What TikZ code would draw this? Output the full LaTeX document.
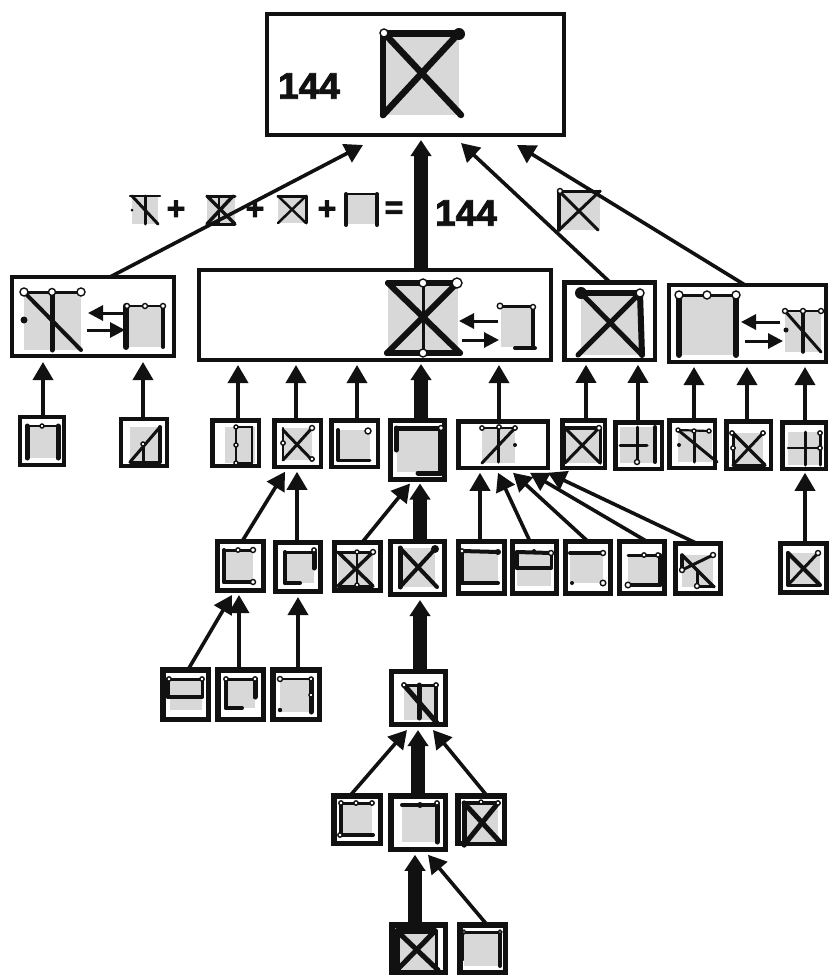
\documentclass[tikz,border=0pt]{standalone}
\usepackage{fontspec}
\setmainfont{Liberation Sans}
\newfontfamily\heavyf[BoldFeatures={FakeBold=2.5}]{Liberation Sans}
\usetikzlibrary{arrows.meta}
\definecolor{ink}{HTML}{111111}
\definecolor{gshade}{HTML}{D8D8D8}
\tikzset{
  boxn/.style={draw=ink,fill=white,inner sep=0pt,outer sep=0pt},
  thinar/.style={draw=ink,line width=3.6pt,-{Triangle[width=20pt,length=18pt]}},
  thickar/.style={draw=ink,line width=14pt,-{Triangle[width=20pt,length=16pt]}},
  smallar/.style={draw=ink,line width=3pt,-{Triangle[width=15pt,length=15pt]}},
  numlab/.style={font=\heavyf\bfseries\fontsize{37}{37}\selectfont,text=ink,inner sep=0pt},
  oplab/.style={font=\heavyf\bfseries\fontsize{32}{32}\selectfont,text=ink,inner sep=0pt}
}
\newcommand{\bx}[6]{\node[boxn,line width=#6pt,minimum width={(#4-#2-#6)*1pt},minimum height={(#5-#3-#6)*1pt}] (#1) at ({(#2+#4)/2},{(#3+#5)/2}) {};}
\newcommand{\ar}[6]{\draw[#1] (#3,0 |- #2.north) -- ([yshift=-#6pt]#5,0 |- #4.south);}
\newcommand{\gsh}[4]{\fill[gshade] (#1,#2) rectangle (#3,#4);}
\newcommand{\gl}[2]{\draw[ink,line width=#1pt,line cap=round,line join=round] #2;}
\newcommand{\oCirc}[3]{\draw[ink,fill=white,line width=1.4pt] (#1,#2) circle (#3pt);}
\newcommand{\dCirc}[3]{\fill[ink] (#1,#2) circle (#3pt);}
\begin{document}
\begin{tikzpicture}[x=1pt,y=-1pt]
\useasboundingbox (0,0) rectangle (829,977);
\fill[white] (0,0) rectangle (829,977);
% boxes
\bx{top}{265}{12}{566}{137}{4}
\bx{A}{10}{275}{176}{358}{4}
\bx{B}{197}{268}{553}{362}{4}
\bx{C}{562}{280}{657}{362}{4.5}
\bx{D}{667}{283}{828}{364}{4}
\bx{ra}{18}{415}{66}{467}{4}
\bx{rb}{119}{417}{169}{468}{4}
\bx{rc}{210}{418}{261}{468}{4.5}
\bx{rd}{272}{418}{323}{469}{4.5}
\bx{re}{329}{418}{380}{469}{4.5}
\bx{rf}{388}{418}{447}{482}{5}
\bx{rg}{456}{419}{550}{470}{4.5}
\bx{rh}{560}{418}{607}{470}{4.5}
\bx{ri}{613}{420}{664}{471}{4.5}
\bx{rj}{667}{418}{717}{470}{4.5}
\bx{rk}{724}{419}{773}{471}{4.5}
\bx{rl}{780}{420}{828}{471}{4.5}
\bx{qa}{215}{539}{266}{593}{5}
\bx{qb}{273}{540}{323}{594}{5}
\bx{qc}{332}{540}{383}{593}{5}
\bx{qd}{388}{539}{447}{597}{5}
\bx{qe}{456}{539}{507}{596}{5}
\bx{qf}{510}{539}{559}{596}{5}
\bx{qg}{563}{539}{613}{596}{5}
\bx{qh}{617}{539}{667}{596}{5}
\bx{qi}{673}{541}{723}{596}{5}
\bx{qj}{778}{541}{829}{595}{5}
\bx{pa}{160}{667}{211}{722}{5.5}
\bx{pb}{215}{667}{266}{722}{5.5}
\bx{pc}{270}{667}{322}{722}{5.5}
\bx{pd}{389}{669}{448}{727}{5}
\bx{oa}{331}{793}{383}{846}{5.5}
\bx{ob}{388}{793}{448}{852}{5.5}
\bx{oc}{455}{793}{507}{846}{5.5}
\bx{na}{389}{922}{448}{975}{5.5}
\bx{nb}{457}{922}{508}{975}{5.5}
% text
\node[numlab,anchor=center] (n144a) at (309,86) {144};
\node[numlab,anchor=center] (n144b) at (466,213) {144};
\node[oplab] (plusa) at (176,210) {+};
\node[oplab] (plusb) at (255,210) {+};
\node[oplab] (plusc) at (327,210) {+};
\node[oplab] (eq) at (394,210) {=};
% equation glyphs
\gsh{132}{196}{158}{224}
\gl{2.5}{(130,196)--(160,196)} \gl{3}{(145,196)--(145,224)} \gl{3}{(132,196)--(158,224)} \dCirc{132}{210}{1.5}
\gsh{207}{196}{235}{224}
\gl{3}{(207,196)--(235,196)} \gl{3}{(207,224)--(235,224)} \gl{3.5}{(207,196)--(235,224)} \gl{3.5}{(233,196)--(207,224)} \gl{2}{(219,196)--(219,224)}
\gsh{278}{196}{306}{223}
\gl{3}{(278,196)--(306,196)} \gl{3}{(306,196)--(306,223)} \gl{2.5}{(278,196)--(306,223)} \gl{2.5}{(306,196)--(278,223)}
\gsh{346}{194}{378}{224}
\gl{2.5}{(346,194)--(378,194)} \gl{4}{(346,194)--(346,225)} \gl{4}{(377,194)--(377,225)}
% lone glyph
\gsh{559}{191}{600}{230}
\gl{3}{(559,191)--(600,191)} \gl{3.5}{(559,191)--(559,230)} \gl{3}{(559,191)--(598,230)} \gl{3}{(600,191)--(559,230)} \oCirc{560}{191}{2.5}
% connectors
\ar{thinar}{A}{110}{top}{363}{10}
\ar{thickar}{B}{421}{top}{421}{5}
\ar{thinar}{C}{610}{top}{461}{8}
\ar{thinar}{D}{745}{top}{517}{10}
\ar{thinar}{ra}{43}{A}{43}{6}
\ar{thinar}{rb}{143}{A}{143}{6}
\ar{thinar}{rc}{238}{B}{238}{5}
\ar{thinar}{rd}{296}{B}{296}{5}
\ar{thinar}{re}{357}{B}{357}{5}
\ar{thickar}{rf}{421}{B}{421}{4}
\ar{thinar}{rg}{499}{B}{499}{5}
\ar{thinar}{rh}{586}{C}{586}{5}
\ar{thinar}{ri}{638}{C}{638}{5}
\ar{thinar}{rj}{694}{D}{694}{5}
\ar{thinar}{rk}{747}{D}{747}{5}
\ar{thinar}{rl}{805}{D}{805}{5}
\ar{thinar}{qa}{242}{rd}{285}{5}
\ar{thinar}{qb}{297}{rd}{297}{5}
\ar{thinar}{qc}{362}{rf}{410}{4}
\ar{thickar}{qd}{420}{rf}{420}{4}
\ar{thinar}{qe}{480}{rg}{480}{5}
\ar{thinar}{qf}{530}{rg}{498}{5}
\ar{thinar}{qg}{588}{rg}{513}{5}
\ar{thinar}{qh}{647}{rg}{530}{5}
\ar{thinar}{qi}{697}{rg}{548}{5}
\ar{thinar}{qj}{805}{rl}{805}{4}
\ar{thinar}{pa}{188}{qa}{232}{4.5}
\ar{thinar}{pb}{239}{qa}{239}{4.5}
\ar{thinar}{pc}{298}{qb}{298}{5.5}
\ar{thickar}{pd}{420}{qd}{420}{5.5}
\ar{thinar}{oa}{350}{pd}{407}{5.5}
\ar{thickar}{ob}{418}{pd}{418}{5.5}
\ar{thinar}{oc}{487}{pd}{433}{5.5}
\ar{thickar}{na}{415}{ob}{415}{5.5}
\ar{thinar}{nb}{487}{ob}{428}{5.5}
% top glyph
\gsh{384}{33}{459}{115}
\gl{7}{(384,33)--(459,33)} \gl{6.5}{(383,33)--(383,115)} \gl{6.5}{(384,33)--(461,115)} \gl{6.5}{(459,33)--(383,115)}
\oCirc{384}{33}{4} \dCirc{459}{34}{6}
% A glyphs
\gsh{24}{292}{81}{350}
\gl{3}{(24,292)--(81,292)} \gl{5}{(52,292)--(52,350)} \gl{4}{(24,292)--(81,350)} \dCirc{24}{320}{3.5}
\oCirc{24}{292}{4} \oCirc{52}{292}{3.5} \oCirc{81}{292}{4}
\gsh{127}{306}{163}{347}
\gl{2}{(127,306)--(163,306)} \gl{6}{(126,306)--(126,347)} \gl{4}{(163,306)--(163,347)}
\oCirc{127}{306}{2.5} \oCirc{145}{306}{2.5} \oCirc{163}{306}{2.5}
\draw[smallar] (123,313) -- (88,313);
\draw[smallar] (87,330) -- (125,330);
% B glyphs
\gsh{388}{283}{458}{353}
\gl{6}{(388,283)--(457,283)} \gl{6}{(387,353)--(460,353)} \gl{6}{(388,283)--(460,353)} \gl{6}{(457,283)--(387,353)} \gl{3}{(423,283)--(423,353)}
\oCirc{423}{283}{4} \oCirc{457}{283}{5} \oCirc{423}{353}{4}
\gsh{501}{307}{533}{347}
\gl{3}{(500,306)--(533,306)} \gl{4}{(533,307)--(533,348)} \gl{4}{(515,348)--(535,348)}
\oCirc{500}{306}{2.8} \oCirc{533}{307}{2.5}
\draw[smallar] (498,321) -- (459,321);
\draw[smallar] (462,340) -- (499,340);
% C glyph
\gsh{581}{293}{640}{355}
\gl{6}{(581,293)--(640,293)} \gl{6}{(640,293)--(642,355)} \gl{5}{(581,293)--(642,355)} \gl{5}{(640,293)--(578,355)}
\dCirc{581}{293}{6} \oCirc{640}{293}{4}
% D glyphs
\gsh{679}{295}{736}{355}
\gl{3}{(679,295)--(736,295)} \gl{6}{(679,295)--(679,355)} \gl{6}{(736,295)--(736,355)}
\oCirc{679}{295}{4} \oCirc{707}{295}{4} \oCirc{736}{295}{4}
\gsh{785}{311}{821}{352}
\gl{2.5}{(785,311)--(821,311)} \gl{3.5}{(803,311)--(803,352)} \gl{3}{(785,311)--(821,352)} \dCirc{786}{330}{2.5}
\oCirc{785}{311}{2.5} \oCirc{803}{311}{2.5} \oCirc{821}{311}{2.5}
\draw[smallar] (780,322) -- (741,322);
\draw[smallar] (745,341) -- (783,341);
% row r
\gsh{27}{426}{58}{458}
\gl{2}{(27,426)--(58,426)} \gl{5}{(27,426)--(27,458)} \gl{5}{(58,426)--(58,458)} \oCirc{42}{426}{2}
\gsh{130}{427}{160}{462}
\gl{4}{(160,427)--(160,462)} \gl{3}{(160,427)--(130,462)} \gl{3}{(130,462)--(160,462)} \gl{3}{(143,444)--(143,462)} \oCirc{143}{444}{2}
\gsh{225}{427}{255}{463}
\gl{2.5}{(236,427)--(252,427)} \gl{2.5}{(236,427)--(236,463)} \gl{2.5}{(236,463)--(252,463)} \gl{2.5}{(252,427)--(252,463)}
\oCirc{236}{427}{2} \oCirc{236}{445}{2} \oCirc{236}{463}{2}
\gsh{283}{428}{312}{460}
\gl{2.5}{(283,428)--(283,460)} \gl{3}{(283,430)--(312,460)} \gl{3}{(312,428)--(283,460)}
\oCirc{312}{428}{2.5} \oCirc{283}{443}{2.2} \oCirc{312}{459}{2.2}
\gsh{338}{430}{370}{460}
\gl{4}{(338,430)--(338,460)} \gl{3}{(338,460)--(370,460)} \oCirc{368}{431}{3}
\gsh{397}{428}{440}{472}
\gl{5}{(397,428)--(440,428)} \gl{5}{(396,428)--(396,450)} \gl{3.5}{(440,428)--(440,472)} \gl{5}{(418,473)--(441,473)} \oCirc{441}{428}{2.5}
\gsh{482}{428}{515}{463}
\gl{2}{(482,428)--(515,428)} \gl{3}{(498,428)--(498,462)} \gl{3}{(515,428)--(482,463)} \dCirc{515}{445}{2}
\oCirc{482}{428}{2.2} \oCirc{499}{427}{2.2} \oCirc{515}{428}{2.2}
\gsh{565}{428}{600}{463}
\gl{4}{(565,428)--(599,428)} \gl{2.5}{(565,428)--(565,463)} \gl{3}{(600,428)--(600,463)} \gl{3}{(565,428)--(600,463)} \gl{3}{(599,428)--(565,463)} \oCirc{599}{428}{2.5}
\gsh{620}{427}{655}{463}
\gl{3}{(620,445)--(647,445)} \gl{3}{(637,427)--(637,462)} \gl{4}{(655,427)--(655,462)} \oCirc{637}{462}{2.5}
\gsh{678}{430}{712}{462}
\gl{2.2}{(678,430)--(709,431)} \gl{3}{(694,431)--(694,462)} \gl{3}{(678,430)--(717,462)} \dCirc{679}{445}{2}
\oCirc{678}{430}{2} \oCirc{694}{431}{2} \oCirc{709}{431}{2}
\gsh{733}{433}{763}{465}
\gl{3}{(733,433)--(733,465)} \gl{3}{(733,465)--(765,465)} \gl{3.5}{(733,433)--(765,465)} \gl{3}{(763,433)--(733,465)}
\oCirc{732}{433}{2.2} \oCirc{733}{448}{2.2} \oCirc{763}{433}{2.2}
\gsh{788}{432}{820}{465}
\gl{2.5}{(788,448)--(820,448)} \gl{3}{(805,432)--(805,465)} \gl{3}{(820,433)--(820,465)}
\oCirc{820}{433}{2.2} \oCirc{820}{448}{2.2}
% row q
\gsh{225}{550}{253}{582}
\gl{3}{(224,550)--(253,550)} \gl{4}{(224,550)--(224,582)} \gl{4}{(224,582)--(253,582)}
\oCirc{238}{550}{2.2} \oCirc{253}{550}{2.5} \oCirc{253}{582}{2.5}
\gsh{285}{552}{314}{583}
\gl{3}{(285,552)--(314,552)} \gl{4}{(285,552)--(285,583)} \gl{4}{(285,583)--(300,583)} \gl{5}{(314,552)--(314,568)} \oCirc{314}{550}{2.2}
\gsh{338}{552}{373}{586}
\gl{3}{(338,552)--(373,552)} \gl{3}{(338,586)--(373,586)} \gl{3.5}{(338,552)--(373,586)} \gl{3.5}{(373,552)--(338,586)} \gl{2}{(357,552)--(357,586)}
\oCirc{357}{552}{2} \oCirc{373}{552}{2.5} \oCirc{357}{585}{2}
\gsh{400}{548}{435}{587}
\gl{5}{(400,548)--(400,587)} \gl{4}{(400,548)--(437,587)} \gl{4}{(435,549)--(400,587)} \dCirc{435}{549}{4}
\gsh{462}{551}{498}{583}
\gl{4}{(462,551)--(498,552)} \gl{4}{(462,551)--(462,583)} \gl{4}{(462,583)--(498,583)} \oCirc{462}{551}{2.2} \dCirc{498}{552}{3}
\gsh{517}{552}{551}{586}
\gl{4}{(517,552)--(551,553)} \gl{4}{(517,552)--(517,568)} \gl{4}{(517,568)--(551,568)} \gl{3}{(551,553)--(551,568)} \oCirc{551}{553}{2.5} \dCirc{534}{551}{2}
\gsh{570}{553}{603}{583}
\gl{4}{(570,553)--(603,553)} \oCirc{603}{553}{2.5} \dCirc{588}{553}{2} \oCirc{603}{583}{2.8} \dCirc{572}{583}{2}
\gsh{628}{555}{658}{585}
\gl{3}{(628,555)--(658,555)} \gl{4}{(660,555)--(660,585)} \gl{4}{(628,585)--(660,585)}
\oCirc{644}{555}{2.2} \oCirc{658}{555}{2.2} \oCirc{628}{585}{2.8}
\gsh{682}{555}{713}{587}
\gl{3.5}{(682,555)--(682,570)} \gl{3.5}{(682,555)--(714,587)} \gl{3}{(713,555)--(682,570)} \gl{3}{(697,570)--(697,586)} \gl{3}{(697,586)--(714,586)}
\oCirc{713}{555}{2.5} \oCirc{682}{570}{2.5} \oCirc{697}{586}{2.5}
\gsh{788}{553}{820}{585}
\gl{4}{(788,553)--(788,585)} \gl{3}{(788,585)--(820,585)} \gl{4}{(788,553)--(820,585)} \gl{3}{(818,553)--(788,585)} \oCirc{818}{553}{2.5}
% row p
\gsh{170}{679}{202}{710}
\gl{3}{(169,679)--(202,679)} \gl{4}{(168,679)--(168,697)} \gl{4}{(168,697)--(202,697)} \gl{3}{(202,679)--(202,697)}
\oCirc{169}{679}{2.2} \oCirc{202}{679}{2.2}
\gsh{226}{679}{255}{708}
\gl{3}{(226,679)--(255,679)} \gl{4}{(226,679)--(226,708)} \gl{4}{(226,708)--(242,708)} \gl{5}{(255,679)--(255,697)}
\oCirc{226}{679}{2.2} \oCirc{255}{679}{2.2}
\gsh{280}{679}{311}{712}
\gl{2}{(280,679)--(311,679)} \gl{5}{(311,679)--(311,712)} \oCirc{280}{679}{2.5} \oCirc{311}{679}{2} \oCirc{311}{695}{2} \dCirc{280}{710}{2.2}
\gsh{404}{685}{436}{720}
\gl{3}{(404,685)--(436,685)} \gl{5}{(404,685)--(437,723)} \gl{5}{(419,685)--(419,718)} \gl{4}{(436,685)--(436,720)}
\oCirc{404}{685}{2.2} \oCirc{436}{685}{2.2}
% row o
\gsh{341}{803}{372}{835}
\gl{3}{(341,803)--(372,803)} \gl{4}{(341,803)--(341,835)} \gl{4}{(340,835)--(373,835)}
\oCirc{341}{803}{2.2} \oCirc{356}{803}{2.2} \oCirc{372}{803}{2.2} \oCirc{340}{835}{2.2}
\gsh{402}{805}{437}{842}
\gl{4}{(402,805)--(437,805)} \gl{5}{(437,805)--(437,842)} \dCirc{420}{805}{3} \oCirc{437}{803}{2.2}
\gsh{464}{803}{498}{842}
\gl{4}{(464,803)--(498,803)} \gl{5}{(464,803)--(464,845)} \gl{5}{(464,803)--(500,842)} \gl{5}{(498,803)--(464,845)}
\oCirc{498}{803}{2.2} \oCirc{481}{802}{2}
% row n
\gsh{397}{931}{436}{970}
\gl{6}{(397,931)--(435,931)} \gl{5}{(397,931)--(397,970)} \gl{3}{(436,931)--(436,970)} \gl{5}{(397,931)--(438,970)} \gl{5}{(435,931)--(397,970)}
\gsh{464}{932}{500}{966}
\gl{3}{(463,932)--(500,932)} \gl{2}{(463,932)--(463,960)} \gl{4}{(500,932)--(500,966)} \oCirc{464}{932}{1.8} \oCirc{500}{932}{1.8}
\end{tikzpicture}
\end{document}
